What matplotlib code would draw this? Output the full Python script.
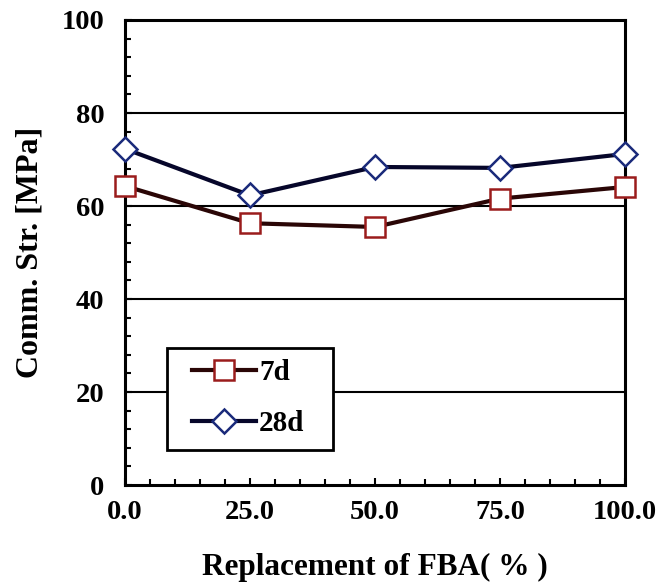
import numpy as np
import matplotlib.pyplot as plt
from matplotlib.ticker import MultipleLocator
from matplotlib.patches import Rectangle

# replacement level of FBA (%)
replacement = [0, 25, 50, 75, 100]
# compressive strength (MPa)
str_7d = [64.3, 56.3, 55.5, 61.6, 64.1]
str_28d = [72.3, 62.3, 68.4, 68.2, 71.2]

plt.rcParams['font.family'] = ['Liberation Serif', 'DejaVu Serif']
plt.rcParams['font.weight'] = 'bold'

fig = plt.figure(figsize=(6.58, 5.88), dpi=100)
ax = fig.add_axes([0.19, 0.175, 0.76, 0.791])

for y in [20, 40, 60, 80]:
    ax.axhline(y, color='black', lw=1.5, zorder=1)

ax.plot(replacement, str_7d, color='#2a0606', lw=3, marker='s', ms=14,
        mfc='white', mec='#9a1c1c', mew=1.8, label='7d', zorder=3, clip_on=False)
ax.plot(replacement, str_28d, color='#06062a', lw=3, marker='D', ms=12,
        mfc='white', mec='#1a2a7a', mew=1.8, label='28d', zorder=3, clip_on=False)

ax.set_xlim(0, 100)
ax.set_ylim(0, 100)
ax.set_xticks([0, 25, 50, 75, 100])
ax.set_xticklabels(['0.0', '25.0', '50.0', '75.0', '100.0'])
ax.set_yticks([0, 20, 40, 60, 80, 100])
ax.xaxis.set_minor_locator(MultipleLocator(5))
ax.yaxis.set_minor_locator(MultipleLocator(4))
ax.tick_params(which='both', direction='in', width=1.5, labelsize=20.5)
ax.tick_params(which='major', length=5)
ax.tick_params(which='minor', length=4)
ax.tick_params(axis='x', which='both', pad=11)
ax.tick_params(axis='y', which='both', pad=15)
for s in ax.spines.values():
    s.set_linewidth(2.2)

ax.set_xlabel('Replacement of FBA( % )', fontsize=22.5, fontweight='bold', labelpad=20)
ax.set_ylabel('Comm. Str. [MPa]', fontsize=23, fontweight='bold', labelpad=12)

# legend box drawn separately so its size matches the original
box = Rectangle((0.084, 0.075), 0.332, 0.219, transform=ax.transAxes,
                facecolor='white', edgecolor='black', lw=2, zorder=4)
ax.add_patch(box)
leg = ax.legend(loc='center left', bbox_to_anchor=(0.134, 0.187), borderaxespad=0,
                fontsize=21, frameon=False, handlelength=2.2, handletextpad=0.1,
                borderpad=0, labelspacing=0.8)
leg.set_zorder(5)

plt.savefig('out.png', dpi=100)
